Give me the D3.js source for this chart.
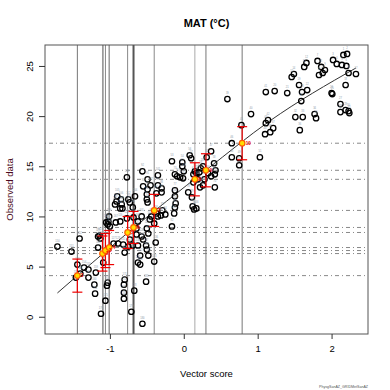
<!DOCTYPE html>
<html>
<head>
<meta charset="utf-8">
<script src="https://cdn.jsdelivr.net/npm/d3@7"></script>
<style>
  html, body { margin: 0; padding: 0; background: #fff; }
  svg { display: block; }
</style>
</head>
<body>
<div id="chart"></div>
<script>
// vector score (x) and observed MAT (y) for each site
const vecScore = [
  2.16, 2.21, 2.02, 2.07, 2.14, 2.20, 1.81, 1.86, 1.91, 1.88, 1.83, 1.66, 1.63, 1.49, 1.46, 2.23, 2.33, 2.19, 1.56, 1.23,
  1.40, 1.67, 1.60, 2.00, 2.01, 1.59, 2.12, 2.12, 2.19, 2.23, 2.24, 1.51, 1.61, 1.77, 1.79, 1.57, 1.21, 1.17, 0.59, 0.91,
  1.11, 1.14, 1.11, 1.10, 0.78, 0.65, 0.37, 0.65, 0.75, 0.75, 1.03, 0.31, -0.16, -0.02, -0.02, 0.08, 0.10, 0.41, 0.23, 0.21,
  0.17, 0.15, 0.13, 0.43, 0.42, 0.33, 0.37, 0.19, 0.28, 0.42, 0.22, 0.13, -0.12, -0.09, -0.05, -0.01, -0.12, 0.06, 0.11, 0.12,
  0.14, -0.16, -0.29, -0.25, -0.31, -0.37, -0.35, -0.30, -0.30, -0.35, -0.37, -0.56, -0.55, -0.49, -0.49, -0.50, -0.50, -0.49, -0.44, -0.46,
  -0.57, -0.35, -0.77, -0.66, -0.90, -0.85, -0.91, -0.93, -0.84, -0.86, -0.83, -0.75, -0.73, -0.69, -0.12, -1.01, -1.02, -0.77, -0.86, -0.64,
  -0.50, -0.48, -0.64, -1.00, -1.16, -0.57, -0.95, -0.89, -0.75, -0.62, -0.80, -0.48, -0.62, -0.40, -0.13, -0.38, -0.51, -0.50, -0.55, -0.73,
  -0.82, -0.59, -0.40, -0.11, -0.12, 0.17, -0.45, 0.00, 0.26, -1.71, -1.52, -1.41, -1.44, -1.35, -1.29, -1.40, -1.46, -1.29, -1.19, -1.21,
  -1.20, -1.14, -1.13, -1.16, -1.05, -1.03, -0.92, -0.68, -0.62, -0.69, -0.80, -0.81, -1.03, -1.04, -1.06, -1.12, -0.81, -0.67, -0.71, -0.56,
  -1.09, -0.81, -0.51, -0.59, 0.26
];
const observed = [
  26.1, 26.2, 25.6, 25.2, 25.1, 25.0, 25.5, 24.9, 24.6, 24.3, 24.1, 25.3, 24.9, 24.2, 23.9, 24.3, 24.2, 23.1, 23.1, 22.5,
  22.3, 22.6, 22.4, 22.3, 22.2, 21.5, 21.2, 20.4, 20.6, 20.5, 20.3, 19.9, 19.9, 20.2, 19.8, 18.6, 18.8, 18.4, 21.7, 20.2,
  22.4, 19.6, 19.3, 18.2, 19.1, 17.3, 16.5, 15.9, 15.8, 15.1, 15.9, 15.9, 15.5, 15.4, 15.0, 16.1, 15.8, 15.3, 14.8, 14.4,
  14.3, 14.5, 14.2, 14.6, 14.2, 14.3, 14.0, 13.7, 13.7, 12.9, 12.9, 13.4, 14.2, 14.0, 13.9, 13.8, 12.6, 12.4, 11.9, 11.0,
  10.7, 9.0, 10.6, 10.2, 10.1, 10.3, 10.0, 12.8, 12.4, 13.1, 12.3, 14.5, 13.0, 12.7, 13.7, 12.2, 11.7, 11.4, 10.0, 9.7,
  10.0, 14.1, 13.9, 12.0, 12.0, 11.7, 11.5, 11.2, 11.2, 10.8, 10.8, 11.7, 11.4, 10.9, 10.9, 10.0, 9.5, 9.8, 9.5, 8.8,
  8.8, 8.3, 8.2, 9.0, 8.0, 8.0, 7.3, 7.3, 7.0, 7.1, 6.4, 6.1, 5.4, 9.3, 10.3, 7.4, 7.1, 6.7, 7.7, 7.7,
  7.2, 6.1, 5.5, 11.3, 12.0, 10.8, 13.1, 14.5, 13.1, 7.0, 6.5, 7.8, 5.2, 4.9, 4.7, 4.3, 3.9, 3.9, 4.4, 3.2,
  2.3, 8.1, 7.8, 6.9, 9.4, 9.2, 9.4, 9.9, 9.5, 7.1, 3.7, 3.2, 3.4, 3.1, 1.6, 0.3, 2.4, 2.6, 0.5, -0.7,
  5.4, 1.8, 3.5, 5.2, 15.0
];

// group means (orange points) with their error half-widths
const groupX   = [-1.44, -1.10, -1.06, -1.01, -0.76, -0.68, -0.40, 0.15, 0.30, 0.79];
const groupY   = [4.1, 6.3, 6.6, 6.9, 8.4, 8.9, 10.6, 13.7, 14.6, 17.3];
const groupErr = [1.65, 1.75, 1.7, 1.7, 1.6, 1.6, 1.6, 1.65, 1.65, 1.65];
const groupShade = ["#777", "#999", "#888", "#666", "#888", "#555", "#888", "#aaa", "#777", "#777"];
// one more reference score line without a visible mean
const extraV = [-1.09];

// fitted curve
const fitX = [-1.71, -0.77, 0.31, 1.16, 2.33];
const fitY = [2.37, 8.3, 14.67, 19.5, 24.8];

const xTicks = [-1, 0, 1, 2];
const yTicks = [0, 5, 10, 15, 20, 25];

const W = 390, H = 390;
const box = {left: 45, right: 368, top: 45, bottom: 334};

const x = d3.scaleLinear().domain([-1.878, 2.493]).range([box.left, box.right]);
const y = d3.scaleLinear().domain([-1.72, 27.09]).range([box.bottom, box.top]);

const svg = d3.select("#chart").append("svg")
    .attr("width", W).attr("height", H)
    .style("font-family", "'Liberation Sans', Arial, sans-serif");

const plot = svg.append("g");
plot.append("clipPath").attr("id", "clip")
  .append("rect")
    .attr("x", box.left).attr("y", box.top)
    .attr("width", box.right - box.left).attr("height", box.bottom - box.top);

const inner = plot.append("g").attr("clip-path", "url(#clip)");

// horizontal dot-dash lines at group means
inner.append("g").selectAll("line")
  .data(groupY)
  .enter().append("line")
    .attr("x1", box.left).attr("x2", box.right)
    .attr("y1", d => y(d)).attr("y2", d => y(d))
    .attr("stroke", "#888")
    .attr("stroke-width", 1)
    .attr("stroke-dasharray", "1,3,4,3");

// vertical solid lines at group scores
inner.append("g").selectAll("line")
  .data(groupX.map((v, i) => ({v, c: groupShade[i]})).concat(extraV.map(v => ({v, c: "#999"}))))
  .enter().append("line")
    .attr("x1", d => x(d.v)).attr("x2", d => x(d.v))
    .attr("y1", box.top).attr("y2", box.bottom)
    .attr("stroke", d => d.c)
    .attr("stroke-width", (d, i) => i === 5 ? 2 : 1);

// fitted curve
const line = d3.line()
    .curve(d3.curveMonotoneX)
    .x(d => x(d[0]))
    .y(d => y(d[1]));
inner.append("path")
    .attr("d", line(fitX.map((v, i) => [v, fitY[i]])))
    .attr("fill", "none")
    .attr("stroke", "#333")
    .attr("stroke-width", 1);

// site points
const pts = vecScore.map((v, i) => ({x: v, y: observed[i], id: i + 1}));
inner.append("g").selectAll("circle")
  .data(pts)
  .enter().append("circle")
    .attr("cx", d => x(d.x))
    .attr("cy", d => y(d.y))
    .attr("r", 2.7)
    .attr("fill", "none")
    .attr("stroke", "#000")
    .attr("stroke-width", 1.3);

// tiny site labels
inner.append("g").selectAll("text")
  .data(pts)
  .enter().append("text")
    .attr("x", d => x(d.x))
    .attr("y", d => y(d.y) - 5)
    .attr("text-anchor", "middle")
    .attr("font-size", 2.6)
    .attr("fill", "#8c9aa8")
    .text(d => d.id);

// error bars
const groups = groupX.map((v, i) => ({x: v, y: groupY[i], e: groupErr[i], id: i + 1}));
const eb = inner.append("g").attr("stroke", "#e00").attr("stroke-width", 1.2);
eb.selectAll("line.v").data(groups).enter().append("line")
    .attr("x1", d => x(d.x)).attr("x2", d => x(d.x))
    .attr("y1", d => y(d.y - d.e)).attr("y2", d => y(d.y + d.e));
eb.selectAll("line.top").data(groups).enter().append("line")
    .attr("x1", d => x(d.x) - 5).attr("x2", d => x(d.x) + 5)
    .attr("y1", d => y(d.y + d.e)).attr("y2", d => y(d.y + d.e));
eb.selectAll("line.bot").data(groups).enter().append("line")
    .attr("x1", d => x(d.x) - 5).attr("x2", d => x(d.x) + 5)
    .attr("y1", d => y(d.y - d.e)).attr("y2", d => y(d.y - d.e));

// group mean points
inner.append("g").selectAll("circle")
  .data(groups)
  .enter().append("circle")
    .attr("cx", d => x(d.x))
    .attr("cy", d => y(d.y))
    .attr("r", 2.8)
    .attr("fill", "#ffdf00")
    .attr("stroke", "#ff5a00")
    .attr("stroke-width", 1.2);

inner.append("g").selectAll("text")
  .data(groups)
  .enter().append("text")
    .attr("x", d => x(d.x) + 3.5)
    .attr("y", d => y(d.y) + 1.5)
    .attr("font-size", 4.5)
    .attr("font-weight", "bold")
    .attr("fill", "#e00")
    .text(d => d.id);

// frame
plot.append("rect")
    .attr("x", box.left).attr("y", box.top)
    .attr("width", box.right - box.left).attr("height", box.bottom - box.top)
    .attr("fill", "none")
    .attr("stroke", "#555")
    .attr("stroke-width", 1);

// axes
const xAxis = svg.append("g").attr("transform", `translate(0,${box.bottom})`)
    .call(d3.axisBottom(x).tickValues(xTicks).tickSize(5).tickPadding(6).tickFormat(d3.format("d")));
xAxis.select(".domain").remove();
xAxis.selectAll("text").attr("font-size", 9.5).attr("fill", "#000").attr("font-family", "'Liberation Sans', Arial, sans-serif")
    .text(d => String(d));
xAxis.selectAll("line").attr("stroke", "#333");

const yAxis = svg.append("g").attr("transform", `translate(${box.left},0)`)
    .call(d3.axisLeft(y).tickValues(yTicks).tickSize(6).tickFormat(d3.format("d")));
yAxis.select(".domain").remove();
yAxis.selectAll("line").attr("stroke", "#333");
yAxis.selectAll("text")
    .attr("font-size", 9.5).attr("fill", "#000").attr("font-family", "'Liberation Sans', Arial, sans-serif")
    .attr("x", null).attr("dy", null)
    .attr("text-anchor", "middle")
    .attr("transform", "translate(-12,0) rotate(-90)");

// titles
svg.append("text")
    .attr("x", 206.5).attr("y", 27)
    .attr("text-anchor", "middle")
    .attr("font-size", 11).attr("font-weight", "bold")
    .text("MAT (°C)");

svg.append("text")
    .attr("x", 206.5).attr("y", 377)
    .attr("text-anchor", "middle")
    .attr("font-size", 9.5)
    .text("Vector score");

svg.append("text")
    .attr("transform", `translate(12.5,${(box.top + box.bottom) / 2}) rotate(-90)`)
    .attr("text-anchor", "middle")
    .attr("font-size", 9.5)
    .attr("fill", "#4a0a20")
    .text("Observed data");

svg.append("text")
    .attr("x", 368).attr("y", 388)
    .attr("text-anchor", "end")
    .attr("font-size", 3.6)
    .attr("fill", "#555")
    .text("PhysgSanAZ_GRIDMetSanAZ");
</script>
</body>
</html>
